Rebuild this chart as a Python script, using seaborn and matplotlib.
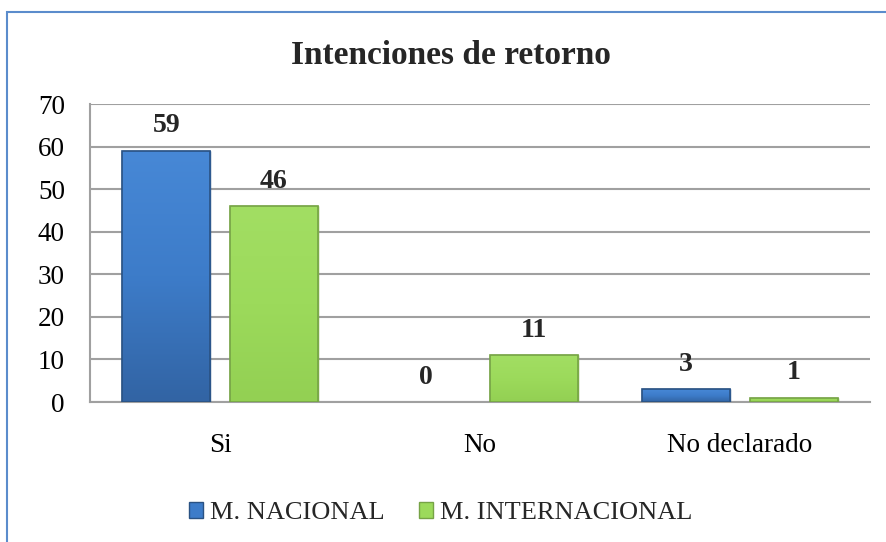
import matplotlib
matplotlib.use('Agg')
import matplotlib.pyplot as plt
import matplotlib.colors as mcolors
import seaborn as sns
import pandas as pd
import numpy as np
from matplotlib.patches import Rectangle

categories = ['Si', 'No', 'No declarado']
series = ['M. NACIONAL', 'M. INTERNACIONAL']
nacional = [59, 0, 3]
internacional = [46, 11, 1]
yticks = [0, 10, 20, 30, 40, 50, 60, 70]
title = 'Intenciones de retorno'

df = pd.DataFrame({
    'cat': categories * 2,
    'serie': [series[0]] * len(categories) + [series[1]] * len(categories),
    'val': nacional + internacional,
})

sns.set_theme(style='white')
plt.rcParams['font.family'] = ['Liberation Serif', 'DejaVu Serif']

W, H = 886, 542
fig = plt.figure(figsize=(W / 100, H / 100), dpi=100)
ax = fig.add_axes([90 / W, 1 - 402 / H, 780 / W, 298 / H])

fills = ['#3d7cc9', '#9cda5b']
edges = ['#2a5283', '#76a346']
tops = ['#4788d6', '#a2de63']
bottoms = ['#3264a4', '#93d053']

sns.barplot(data=df, x='cat', y='val', hue='serie', palette=fills,
            width=0.827, gap=0.18, ax=ax, saturation=1, zorder=3)

ax.set_ylim(0, 70)
ax.set_xlim(-0.5, len(categories) - 0.5)
ax.set_yticks(yticks)
ax.set_yticklabels([str(v) for v in yticks])
ax.set_xlabel('')
ax.set_ylabel('')

# gradient fill + edges
for i, cont in enumerate(ax.containers):
    for p in cont:
        p.set_edgecolor(edges[i])
        p.set_linewidth(1.0)
        x0, y0 = p.get_x(), p.get_y()
        w, h = p.get_width(), p.get_height()
        if h <= 0:
            p.set_linewidth(0)
            continue
        cmap = mcolors.LinearSegmentedColormap.from_list('g', [bottoms[i], fills[i], tops[i]])
        grad = np.linspace(0, 1, 100).reshape(-1, 1)
        im = ax.imshow(grad, extent=(x0, x0 + w, y0, y0 + h), origin='lower',
                       cmap=cmap, aspect='auto', zorder=3.5, interpolation='bilinear')
        im.set_clip_path(p)
        ep = Rectangle((x0, y0), w, h, fill=False, edgecolor=edges[i], linewidth=1.2, zorder=4)
        ax.add_patch(ep)

ax.set_ylim(0, 70)
ax.set_xlim(-0.5, len(categories) - 0.5)

for cont in ax.containers:
    ax.bar_label(cont, fmt='%d', fontweight='bold', fontsize=20, padding=9, zorder=5)

ax.yaxis.grid(True, color='#a0a0a0', linewidth=1.5, zorder=0)
ax.set_axisbelow(True)
for s in ['top', 'right']:
    ax.spines[s].set_visible(False)
for s in ['left', 'bottom']:
    ax.spines[s].set_color('#a0a0a0')
    ax.spines[s].set_linewidth(1.5)
ax.tick_params(axis='y', length=0, pad=18, labelsize=19.5, labelcolor='black')
ax.tick_params(axis='x', length=0, pad=22, labelsize=19.5, labelcolor='black')

handles, labels = ax.get_legend_handles_labels()
if ax.get_legend() is not None:
    ax.get_legend().remove()
leg = fig.legend(handles, labels, loc='center', bbox_to_anchor=(0.497, 1 - 513 / H),
                 ncol=2, frameon=False, fontsize=19, handlelength=0.55, handleheight=0.55,
                 handletextpad=0.25, columnspacing=1.3)
for hnd, e in zip(leg.legend_handles, edges):
    hnd.set_edgecolor(e)

fig.text(451 / W, 1 - 56 / H, title, ha='center', va='center', fontsize=24, fontweight='bold')

frame = Rectangle((7 / W, -0.2), 1.5, 1 - 12 / H + 0.2, transform=fig.transFigure,
                  fill=False, edgecolor='#5b8ccc', linewidth=1.5)
fig.patches.append(frame)

fig.savefig('out.png', dpi=100)
